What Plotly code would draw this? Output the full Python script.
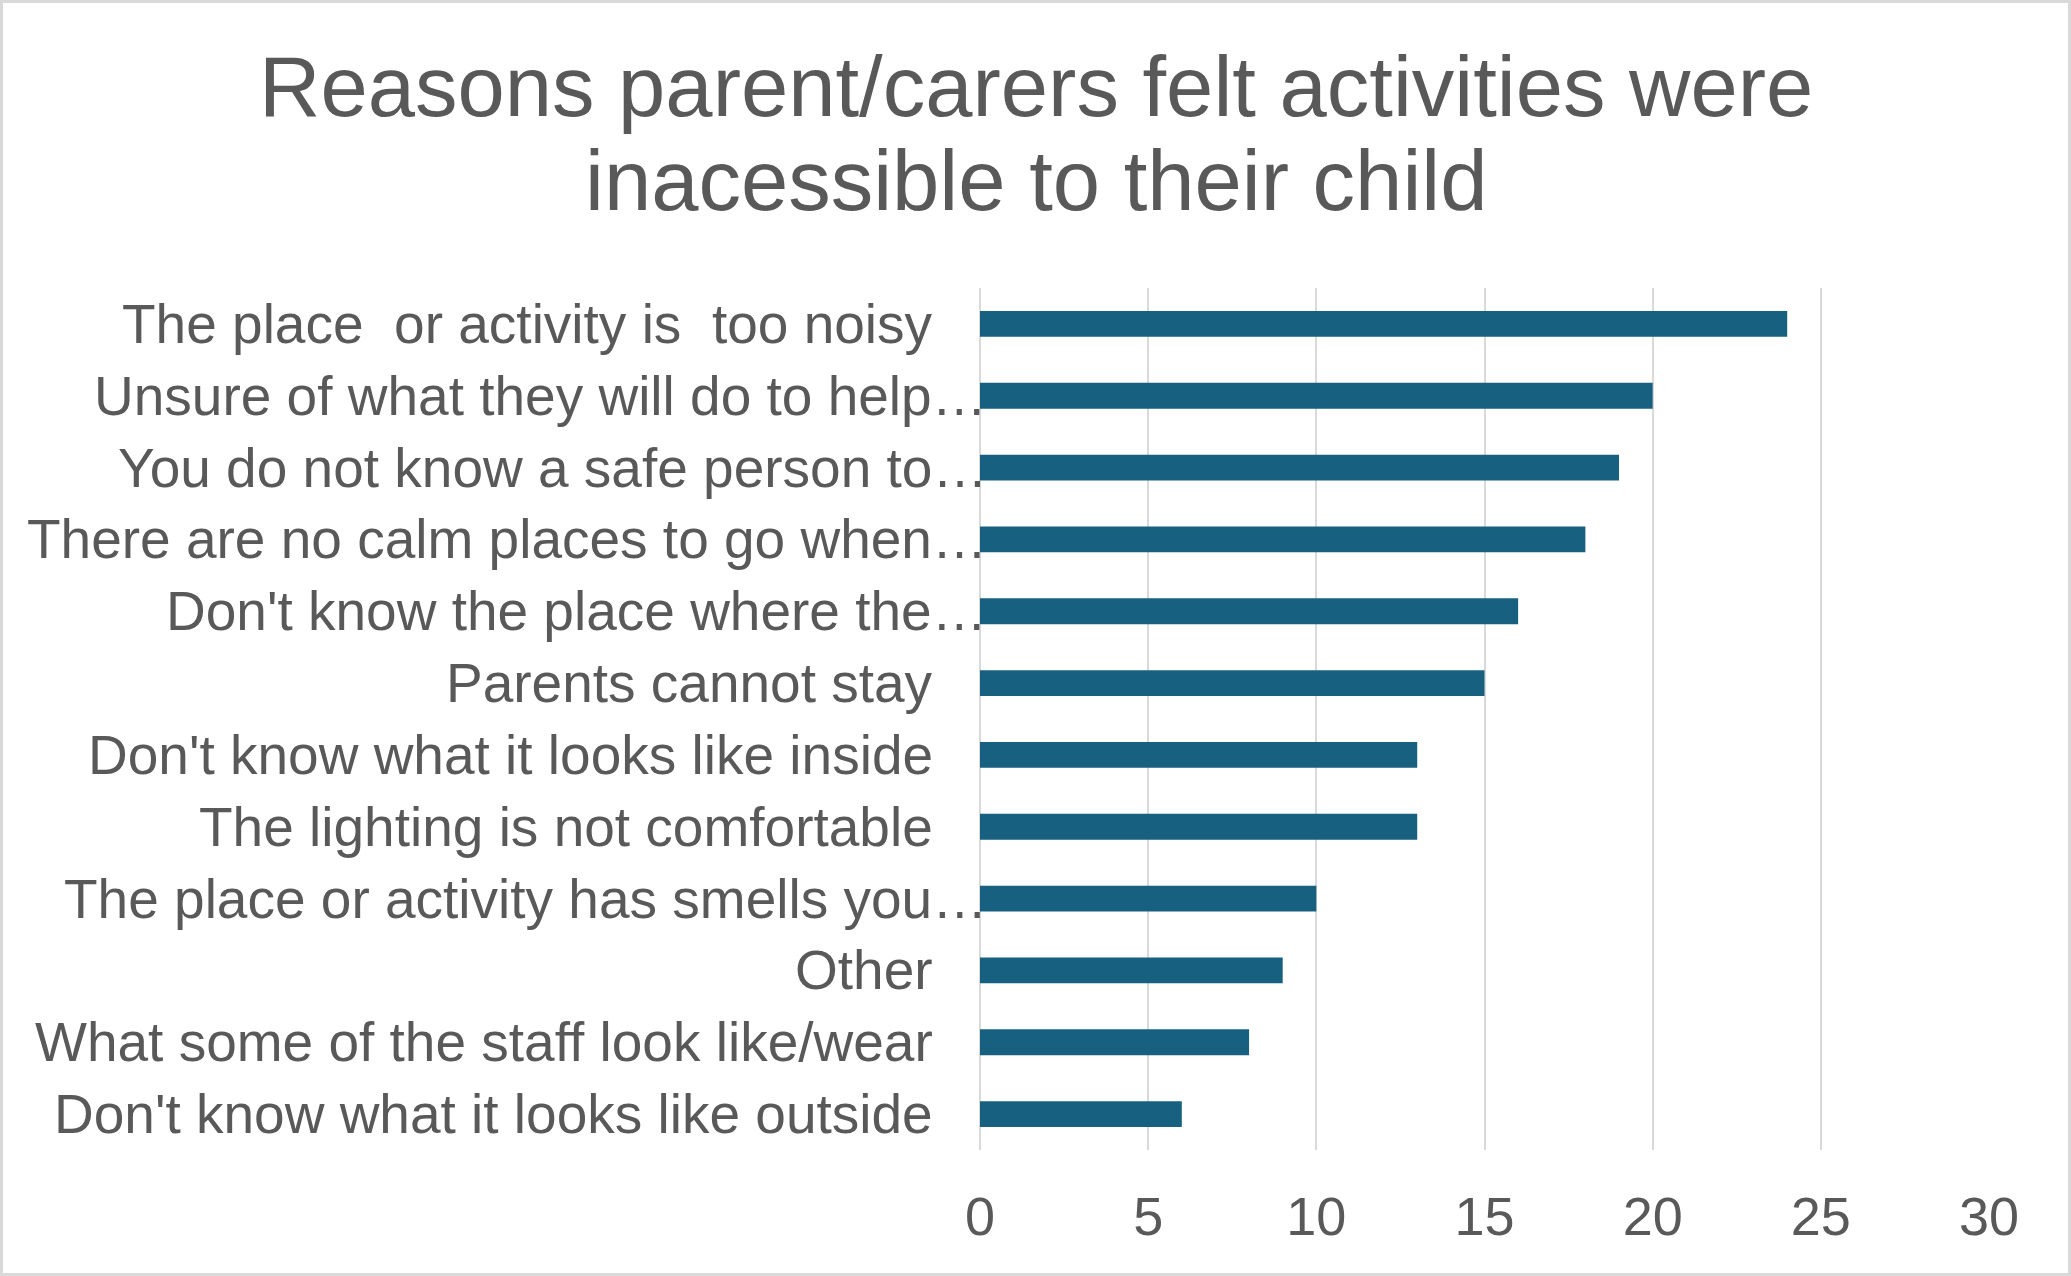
import plotly.graph_objects as go

TITLE_LINES = ["Reasons parent/carers felt activities were", "inacessible to their child"]
CATEGORIES = [
    "The place\u00a0 or activity is\u00a0 too noisy",
    "Unsure of what they will do to help\u2026",
    "You do not know a safe person to\u2026",
    "There are no calm places to go when\u2026",
    "Don't know the place where the\u2026",
    "Parents cannot stay",
    "Don't know what it looks like inside",
    "The lighting is not comfortable",
    "The place or activity has smells you\u2026",
    "Other",
    "What some of the staff look like/wear",
    "Don't know what it looks like outside",
]
VALUES = [24, 20, 19, 18, 16, 15, 13, 13, 10, 9, 8, 6]
X_TICKS = [0, 5, 10, 15, 20, 25, 30]

W, H = 2071, 1276
ML, MR, MT, MB = 980, 82, 288, 126
TEXT = "#595959"
FONT = "Liberation Sans, Arial, sans-serif"

fig = go.Figure(go.Bar(
    x=VALUES, y=CATEGORIES, orientation="h",
    marker=dict(color="#17607F", line=dict(width=0)),
    hoverinfo="x+y",
))

pw = W - ML - MR
ph = H - MT - MB

def px_to_paper_x(px):
    return (px - ML) / pw

def px_to_paper_y(py):
    return 1 - (py - MT) / ph

annotations = []
for line, cy in zip(TITLE_LINES, [86, 181]):
    annotations.append(dict(
        text=line, xref="paper", yref="paper",
        x=px_to_paper_x(W / 2), y=px_to_paper_y(cy),
        xanchor="center", yanchor="middle", showarrow=False,
        font=dict(family=FONT, size=85, color=TEXT),
    ))

# category labels: truncated ones run up to the axis, the others stop short of it
for cat in CATEGORIES:
    right = 989 if cat.endswith("\u2026") else 935
    annotations.append(dict(
        text=cat, xref="paper", yref="y",
        x=px_to_paper_x(right), y=cat,
        xanchor="right", yanchor="middle", showarrow=False,
        font=dict(family=FONT, size=55, color=TEXT),
    ))

fig.update_layout(
    width=W, height=H,
    margin=dict(l=ML, r=MR, t=MT, b=MB, pad=0),
    paper_bgcolor="white", plot_bgcolor="white",
    showlegend=False,
    bargap=0.64,
    font=dict(family=FONT, color=TEXT, size=55),
    annotations=annotations,
    xaxis=dict(
        range=[0, 30], tickvals=X_TICKS, ticktext=[str(v) for v in X_TICKS],
        showgrid=True, gridcolor="#D9D9D9", gridwidth=2,
        zeroline=True, zerolinecolor="#D9D9D9", zerolinewidth=2,
        showline=False, ticks="",
        tickfont=dict(family=FONT, size=54, color=TEXT),
        ticklabelstandoff=30, fixedrange=True,
    ),
    yaxis=dict(
        autorange="reversed", showgrid=False, zeroline=False, showline=False,
        ticks="", showticklabels=False, fixedrange=True,
    ),
    shapes=[dict(
        type="rect", xref="paper", yref="paper",
        x0=px_to_paper_x(1.5), x1=px_to_paper_x(W - 1.5),
        y0=px_to_paper_y(H - 1.5), y1=px_to_paper_y(1.5),
        line=dict(color="#D9D9D9", width=3), fillcolor="rgba(0,0,0,0)",
        layer="below",
    )],
)

fig.write_html(
    "out.html",
    config={"displayModeBar": False},
    post_script="document.body.style.margin='0';document.body.style.overflow='hidden';",
)
